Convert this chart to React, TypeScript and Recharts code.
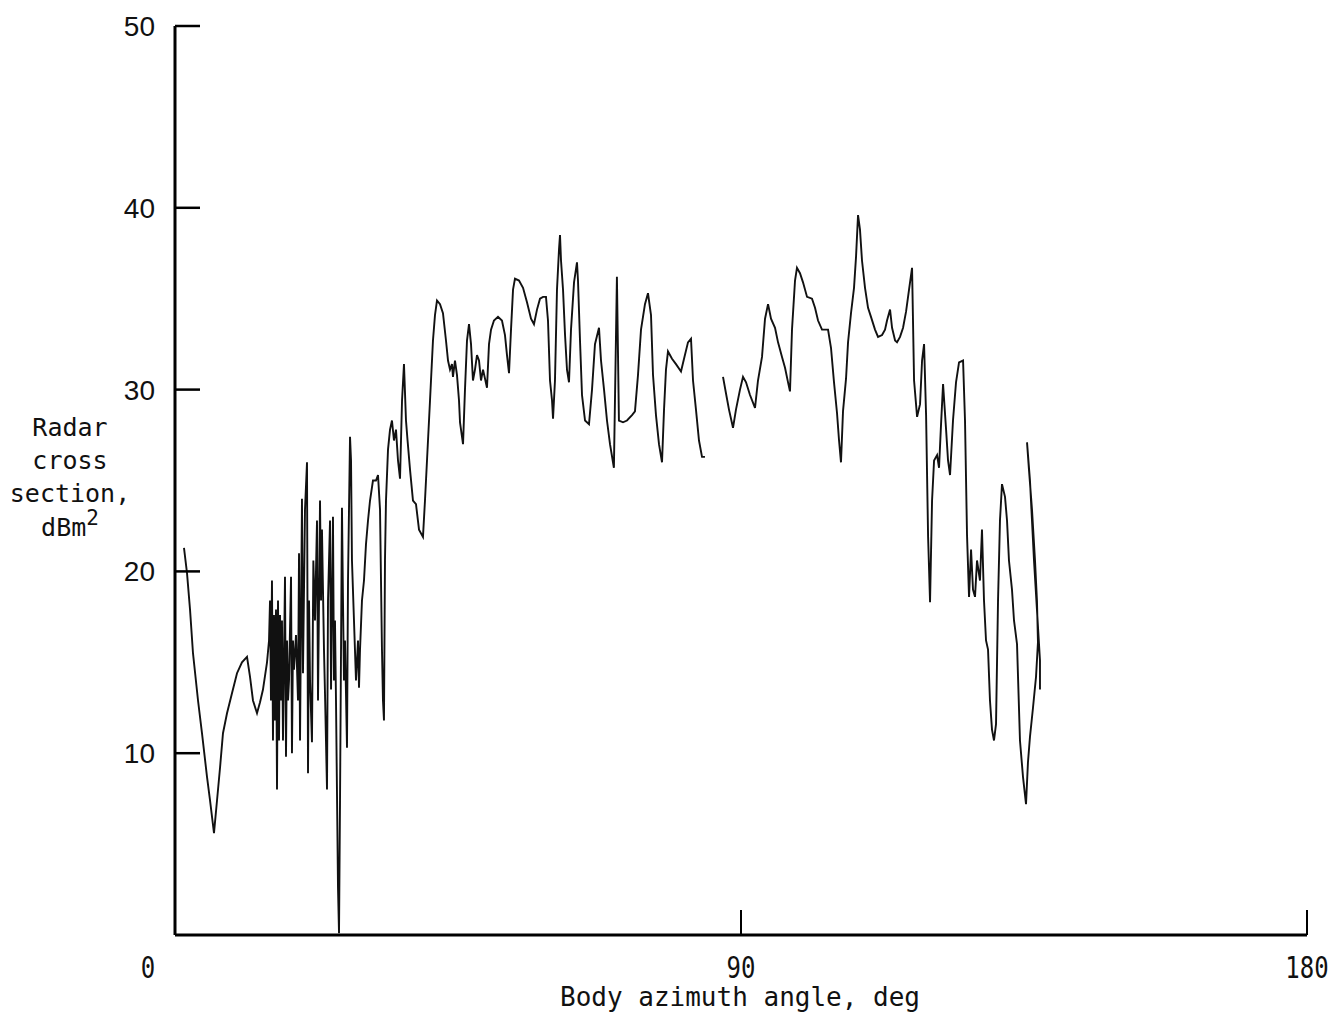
import { LineChart, Line, XAxis, YAxis } from "recharts"

// readings before the gap near 86 deg
const leftAngles = [
  1.43, 1.91, 2.39, 2.86, 3.66, 4.29, 5.09, 5.57, 6.2, 6.68, 7.16, 7.63, 8.27, 9.06, 9.86, 10.65,
  11.45, 11.93, 12.4, 13.04, 13.52, 13.99, 14.63, 14.95, 15.11, 15.26, 15.42, 15.58, 15.74, 15.9,
  16.06, 16.22, 16.38, 16.54, 16.7, 16.85, 17.01, 17.17, 17.49, 17.65, 17.81, 17.97, 18.13, 18.45,
  18.6, 18.76, 18.92, 19.24, 19.56, 19.72, 19.88, 20.19, 20.35, 20.67, 20.99, 21.15, 21.31, 21.47,
  21.78, 22.0, 22.26, 22.58, 22.74, 23.06, 23.22, 23.37, 23.69, 23.85, 24.17, 24.33, 24.65, 24.81,
  25.12, 25.28, 25.44, 25.6, 25.92, 26.08, 26.24, 26.55, 26.71, 26.87, 27.03, 27.35, 27.51, 27.83,
  27.99, 28.14, 28.46, 28.78, 29.1, 29.26, 29.42, 29.73, 30.05, 30.37, 30.69, 31.01, 31.48, 31.96,
  32.28, 32.6, 32.91, 33.07, 33.23, 33.39, 33.55, 33.87, 34.19, 34.5, 34.82, 35.14, 35.46, 35.78,
  36.1, 36.41, 36.73, 36.98, 37.37, 37.84, 38.32, 38.8, 39.43, 39.75, 40.07, 40.55, 41.02, 41.34,
  41.66, 42.14, 42.61, 43.09, 43.41, 43.73, 44.04, 44.2, 44.52, 44.84, 45.16, 45.32, 45.8, 46.11,
  46.43, 46.75, 47.07, 47.38, 47.7, 48.02, 48.34, 48.66, 48.98, 49.61, 49.93, 50.25, 50.72, 51.36,
  51.99, 52.47, 52.79, 53.11, 53.43, 53.75, 54.06, 54.7, 55.34, 55.97, 56.61, 57.08, 57.56, 58.04,
  58.52, 58.99, 59.31, 59.63, 59.95, 60.11, 60.42, 60.74, 61.06, 61.22, 61.38, 61.7, 62.02, 62.33,
  62.65, 62.97, 63.45, 63.92, 64.08, 64.4, 64.72, 65.2, 65.83, 66.31, 66.78, 67.42, 67.74, 68.22,
  68.69, 69.17, 69.79, 70.27, 70.59, 71.24, 71.87, 72.67, 73.14, 73.62, 74.1, 74.73, 75.21, 75.69,
  76.01, 76.48, 76.96, 77.44, 77.76, 78.07, 78.39, 79.03, 79.66, 80.46, 80.94, 81.57, 82.05, 82.37,
  82.84, 83.32, 83.8, 84.27,
]
const leftRcs = [
  21.3, 19.9, 17.9, 15.5, 12.9, 11.1, 8.7, 7.4, 5.6, 7.4, 9.2, 11.1, 12.2, 13.3, 14.4, 15.0,
  15.3, 14.2, 12.9, 12.2, 12.8, 13.5, 15.0, 16.2, 18.4, 12.9, 19.5, 10.7, 17.6, 11.8,
  17.9, 8.0, 18.4, 10.7, 17.6, 12.9, 17.3, 10.7, 19.7, 9.8, 16.2, 12.9, 14.0, 19.7,
  10.0, 16.2, 14.6, 16.5, 12.9, 21.0, 10.7, 24.0, 14.4, 23.4, 26.0, 8.9, 18.4, 14.0,
  10.6, 20.6, 17.3, 22.8, 12.9, 23.9, 18.4, 22.3, 15.7, 13.3, 8.0, 18.4, 22.8, 13.5,
  23.0, 14.0, 17.3, 12.9, 2.6, 0.1, 7.4, 23.5, 18.4, 14.0, 16.2, 10.3, 19.5, 27.4,
  26.1, 20.6, 17.3, 14.0, 16.2, 13.6, 15.7, 18.4, 19.5, 21.5, 22.8, 23.9, 25.0, 25.0,
  25.3, 23.4, 15.7, 12.9, 11.8, 20.6, 23.9, 26.7, 27.8, 28.3, 27.2, 27.8, 26.1, 25.1,
  29.4, 31.4, 28.3, 27.2, 25.6, 23.9, 23.7, 22.3, 21.9, 23.9, 26.1, 29.4, 32.7, 34.1,
  34.9, 34.7, 34.2, 32.7, 31.6, 31.1, 31.4, 30.7, 31.6, 30.8, 29.4, 28.2, 27.0, 30.0,
  32.7, 33.6, 32.5, 30.5, 31.1, 31.9, 31.6, 30.5, 31.1, 30.1, 32.5, 33.3, 33.8, 34.0,
  33.8, 33.0, 31.9, 30.9, 33.3, 35.5, 36.1, 36.0, 35.6, 34.8, 33.9, 33.6, 34.4, 35.0,
  35.1, 35.1, 33.8, 30.5, 29.4, 28.4, 30.5, 35.5, 37.7, 38.5, 37.1, 35.5, 33.0, 31.1,
  30.4, 33.3, 35.9, 37.0, 36.0, 32.7, 29.7, 28.3, 28.1, 30.0, 32.5, 33.4, 31.6, 30.0,
  28.3, 27.0, 25.7, 36.2, 28.3, 28.2, 28.3, 28.6, 28.8, 30.8, 33.3, 34.7, 35.3, 34.1,
  30.8, 28.6, 27.0, 26.0, 28.9, 31.1, 32.1, 31.7, 31.4, 31.0, 31.7, 32.6, 32.8, 30.5,
  28.9, 27.2, 26.3, 26.3,
]

// readings after the gap
const rightAngles = [
  87.14, 87.61, 88.09, 88.73, 89.2, 89.84, 90.32, 90.8, 91.43, 92.23, 92.7, 93.34, 93.82, 94.3,
  94.77, 95.41, 95.89, 96.52, 97.0, 97.48, 97.79, 98.11, 98.59, 98.9, 99.38, 99.86, 100.5, 101.29,
  101.77, 102.25, 102.88, 103.84, 104.31, 104.79, 105.27, 105.59, 105.9, 106.22, 106.7, 107.02,
  107.49, 107.97, 108.29, 108.61, 108.92, 109.24, 109.72, 110.2, 110.67, 111.31, 111.79, 112.43,
  112.9, 113.22, 113.7, 114.02, 114.5, 114.81, 115.29, 115.77, 116.25, 116.72, 117.2, 117.52,
  118.0, 118.47, 118.79, 119.11, 119.43, 119.75, 120.06, 120.38, 120.7, 121.18, 121.49, 121.81,
  122.13, 122.61, 122.92, 123.24, 123.71, 124.19, 124.67, 125.31, 125.62, 125.94, 126.26, 126.58,
  126.89, 127.21, 127.53, 128.0, 128.32, 128.64, 128.96, 129.28, 129.59, 129.91, 130.23, 130.55,
  130.87, 131.18, 131.5, 131.98, 132.3, 132.61, 133.09, 133.41, 133.89, 134.36, 134.84, 135.32,
  135.63, 135.95, 136.43, 136.91, 137.22, 137.06, 136.75, 136.27, 135.79, 135.48, 135.95, 136.59,
  137.06, 137.54, 137.54,
]
const rightRcs = [
  30.7, 29.8, 28.9, 27.9, 28.9, 30.0, 30.7, 30.4, 29.7, 29.0, 30.5, 31.8, 33.9, 34.7,
  33.9, 33.4, 32.6, 31.8, 31.2, 30.4, 29.9, 33.3, 36.0, 36.7, 36.4, 35.9, 35.1, 35.0,
  34.5, 33.8, 33.3, 33.3, 32.3, 30.4, 28.7, 27.2, 26.0, 28.8, 30.6, 32.6,
  34.2, 35.6, 37.3, 39.6, 38.8, 37.1, 35.6, 34.5, 34.0, 33.3, 32.9, 33.0,
  33.3, 33.8, 34.4, 33.4, 32.7, 32.6, 32.9, 33.4, 34.3, 35.5, 36.7, 30.5,
  28.5, 29.2, 31.6, 32.5, 28.6, 21.9, 18.3, 23.9, 26.1, 26.4, 25.7, 28.1,
  30.3, 27.8, 26.1, 25.3, 28.3, 30.4, 31.5, 31.6, 28.3, 22.0, 18.6, 21.2,
  19.0, 18.6, 20.6, 19.5, 22.3, 18.4, 16.2, 15.7, 12.9, 11.3, 10.7, 11.6,
  18.4, 22.8, 24.8, 24.1, 22.8, 20.6, 19.0, 17.3, 16.0, 10.7, 8.7, 7.2,
  9.5, 10.9, 12.5, 14.2, 16.1, 18.4, 20.6, 23.4, 25.6, 27.1, 25.0, 20.6,
  17.9, 15.1, 13.5,
]

const xTicks = [0, 90, 180]
const yTicks = [10, 20, 30, 40, 50]
const yTitle = ["Radar", "cross", "section,"]

const data = [
  ...leftAngles.map((x, i) => ({ x, rcs: leftRcs[i] })),
  { x: 85.7, rcs: null },
  ...rightAngles.map((x, i) => ({ x, rcs: rightRcs[i] })),
]

const numFont = "'Liberation Sans', Arial, sans-serif"
const monoFont = "'DejaVu Sans Mono', 'Liberation Mono', monospace"

function YTick({ x, y, payload }: any) {
  return (
    <g>
      <line x1={x} y1={y} x2={x + 25} y2={y} stroke="#000" strokeWidth={2.5} />
      <text x={x - 20} y={y + 10} textAnchor="end" fontSize={28} fontFamily={numFont} fill="#111">
        {payload.value}
      </text>
    </g>
  )
}

function XTick({ x, y, payload }: any) {
  const v = payload.value
  const tx = v === 0 ? x - 27 : x
  return (
    <g>
      {v !== 0 && <line x1={x} y1={y} x2={x} y2={y - 25} stroke="#000" strokeWidth={2} />}
      <g transform={`translate(${tx},${y + 43}) scale(0.8,1)`}>
        <text x={0} y={0} textAnchor="middle" fontSize={30} fontFamily={monoFont} fill="#111">
          {v}
        </text>
      </g>
    </g>
  )
}

export default function App() {
  return (
    <div style={{ position: "absolute", left: 0, top: 0, width: 1336, height: 1020, background: "#fff" }}>
      <style>{`body{margin:0}`}</style>
      <LineChart
        width={1336}
        height={1020}
        data={data}
        margin={{ top: 26, right: 29, left: 115, bottom: 55 }}
      >
        <XAxis
          type="number"
          dataKey="x"
          domain={[0, 180]}
          ticks={xTicks}
          height={30}
          tickSize={0}
          tickMargin={0}
          axisLine={{ stroke: "#000", strokeWidth: 3 }}
          tickLine={false}
          tick={<XTick />}
          interval={0}
        />
        <YAxis
          type="number"
          domain={[0, 50]}
          ticks={yTicks}
          width={60}
          tickSize={0}
          tickMargin={0}
          axisLine={{ stroke: "#000", strokeWidth: 3 }}
          tickLine={false}
          tick={<YTick />}
          allowDataOverflow
          interval={0}
        />
        <Line
          type="linear"
          dataKey="rcs"
          stroke="#111"
          strokeWidth={1.9}
          dot={false}
          connectNulls={false}
          isAnimationActive={false}
        />
      </LineChart>
      <div
        style={{
          position: "absolute",
          left: 0,
          top: 411,
          width: 140,
          textAlign: "center",
          fontFamily: monoFont,
          fontSize: 25,
          lineHeight: "33px",
          color: "#111",
        }}
      >
        {yTitle.map((t) => (
          <div key={t}>{t}</div>
        ))}
      </div>
      <div
        style={{
          position: "absolute",
          left: 0,
          top: 514,
          width: 140,
          textAlign: "center",
          fontFamily: monoFont,
          fontSize: 25,
          lineHeight: "28px",
          color: "#111",
        }}
      >
        dBm
        <span style={{ position: "relative", top: -11, fontSize: 21, lineHeight: "20px" }}>2</span>
      </div>
      <div
        style={{
          position: "absolute",
          left: 440,
          top: 982,
          width: 600,
          textAlign: "center",
          fontFamily: monoFont,
          fontSize: 26,
          color: "#111",
        }}
      >
        Body azimuth angle, deg
      </div>
    </div>
  )
}
